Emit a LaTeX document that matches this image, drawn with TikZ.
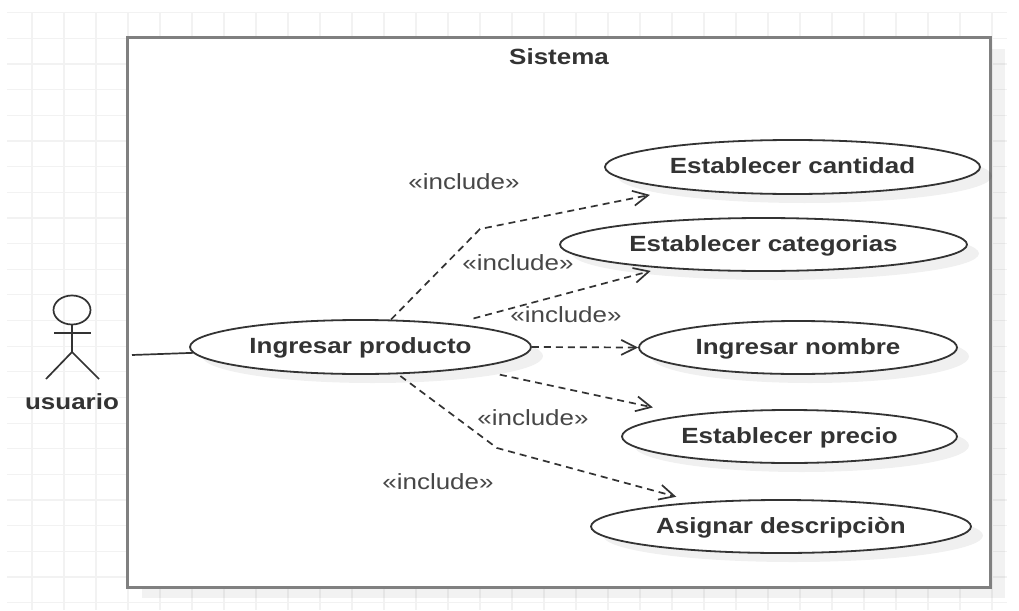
\documentclass[tikz,border=0pt]{standalone}
\usepackage{fontspec}
\usetikzlibrary{arrows.meta,shapes.geometric,shadows}
\newfontfamily\diagfont[FakeStretch=1.18]{Liberation Sans}
\definecolor{gridc}{HTML}{F2F2F2}
\definecolor{framec}{HTML}{808080}
\definecolor{inkc}{HTML}{333333}
\tikzset{
  x=1pt,y=-1pt,
  usecase/.style={ellipse,draw=inkc,line width=1.8pt,fill=white,inner sep=0pt,
    font=\diagfont\fontsize{22}{24}\selectfont\bfseries,text=inkc,
    text height=15pt,text depth=2pt,
    drop shadow={shadow xshift=12pt,shadow yshift=-9pt,fill=black,opacity=.06}},
  sysframe/.style={rectangle,draw=framec,line width=3pt,fill=white,inner sep=0pt,
    drop shadow={shadow xshift=15pt,shadow yshift=-11pt,fill=black,opacity=.05}},
  boldlabel/.style={inner sep=0pt,font=\diagfont\fontsize{22}{24}\selectfont\bfseries,text=inkc},
  inclabel/.style={inner sep=0pt,font=\diagfont\fontsize{22}{24}\selectfont,text=inkc!90},
  includes/.style={draw=inkc,line width=1.7pt,dash pattern=on 7pt off 5pt,
    -{Straight Barb[length=15pt,width=15pt,line width=1.7pt]}},
  actorline/.style={draw=inkc,line width=1.7pt},
  gridline/.style={draw=gridc,line width=1.2pt},
}
\begin{document}
\begin{tikzpicture}
\useasboundingbox (0,0) rectangle (1019,610);
\fill[white] (0,0) rectangle (1019,610);
% grid
\foreach \gx in {32,64,...,992}{\draw[gridline] (\gx,12.5) -- (\gx,610);}
\foreach \gi in {0,...,23}{\draw[gridline] (7,12.7+25.65*\gi) -- (1007,12.7+25.65*\gi);}
% system frame
\node[sysframe,minimum width=863pt,minimum height=549pt] (sys) at (558.5,312.5) {};
\node[boldlabel] (sysname) at (559,57) {Sistema};
% use cases
\node[usecase,minimum width=341pt,minimum height=54pt] (prod) at (360.5,347) {Ingresar producto};
\node[usecase,minimum width=375pt,minimum height=54pt] (cant) at (792.5,167) {Establecer cantidad};
\node[usecase,minimum width=407pt,minimum height=53pt] (cate) at (763.5,244.5) {Establecer categorias};
\node[usecase,minimum width=318pt,minimum height=53pt] (nomb) at (798,347.5) {Ingresar nombre};
\node[usecase,minimum width=335pt,minimum height=53pt] (prec) at (789.5,436.5) {Establecer precio};
\node[usecase,minimum width=380pt,minimum height=53pt] (asig) at (781,526.5) {Asignar descripciòn};
% actor
\node[ellipse,draw=inkc,line width=1.7pt,inner sep=0pt,minimum width=37pt,minimum height=29pt] (actor) at (72,310) {};
\coordinate (armL) at (54,333);
\coordinate (armR) at (91,333);
\coordinate (hip) at (72,352);
\coordinate (legL) at (46,379);
\coordinate (legR) at (99,379);
\draw[actorline] (actor.south) -- (hip);
\draw[actorline] (armL) -- (armR);
\draw[actorline] (legL) -- (hip) -- (legR);
\node[boldlabel] (actorname) at (72,402) {usuario};
% association
\coordinate (assoc) at (132,355);
\draw[actorline] (assoc) -- (prod.182);
% include connectors
\coordinate (bendA) at (480,229);
\coordinate (bendB) at (497,448);
\draw[includes,shorten >=29pt] (prod.42) -- (bendA) -- (cant.191.7);
\draw[includes,shorten <=20pt,shorten >=10.5pt] (prod.14.6) -- (cate.193.4);
\draw[includes] (prod.east) -- (nomb.west);
\draw[includes,shorten <=30pt,shorten >=35pt] (prod.-11.8) -- (prec.168.3);
\draw[includes,shorten <=3pt,shorten >=20pt] (prod.-36.6) -- (bendB) -- (asig.164.2);
% stereotype labels
\node[inclabel] (inc1) at (464,182) {«include»};
\node[inclabel] (inc2) at (518,263) {«include»};
\node[inclabel] (inc3) at (566,315) {«include»};
\node[inclabel] (inc4) at (533,418) {«include»};
\node[inclabel] (inc5) at (438,482) {«include»};
\end{tikzpicture}
\end{document}
